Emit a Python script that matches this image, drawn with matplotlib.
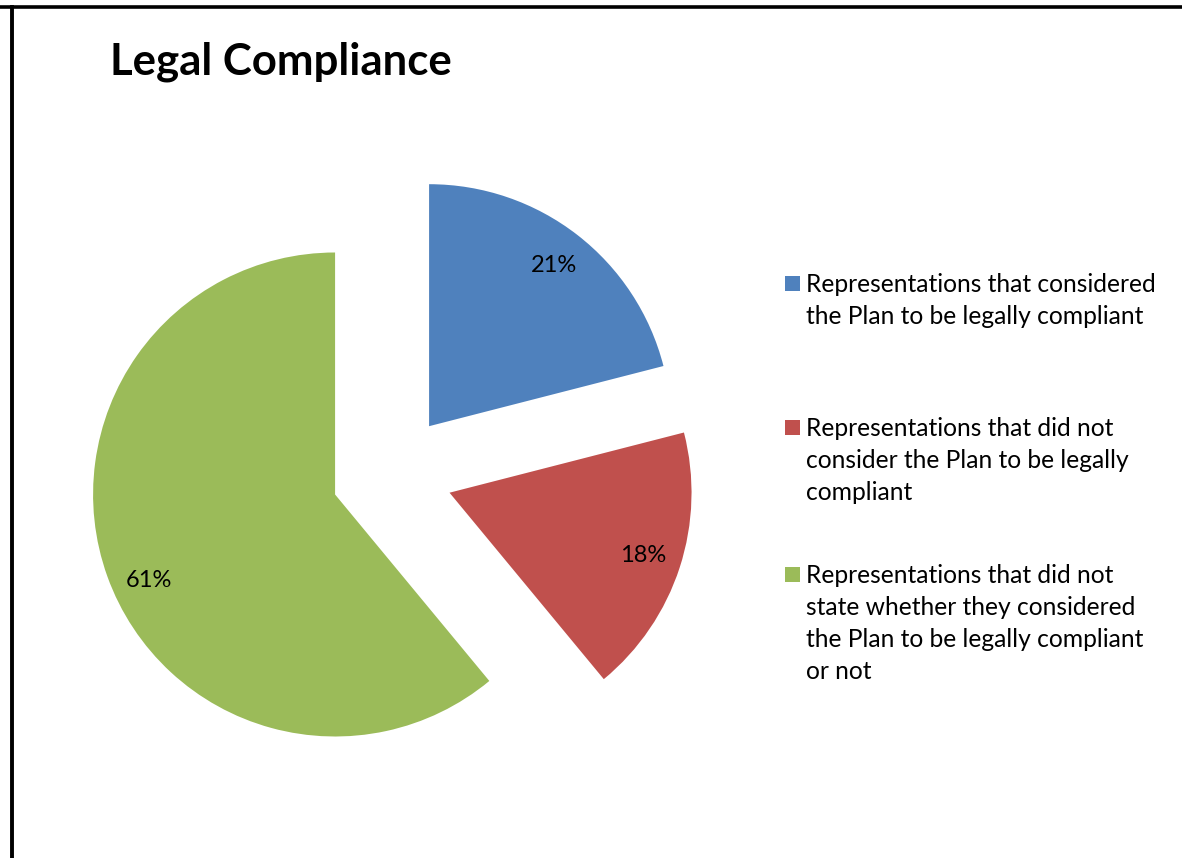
import matplotlib.pyplot as plt
from matplotlib.lines import Line2D
from matplotlib.patches import Rectangle

# data
labels = [
    "Representations that considered\nthe Plan to be legally compliant",
    "Representations that did not\nconsider the Plan to be legally\ncompliant",
    "Representations that did not\nstate whether they considered\nthe Plan to be legally compliant\nor not",
]
shares = [21, 18, 61]
colors = ["#4F81BD", "#C0504D", "#9BBB59"]

plt.rcParams['font.family'] = ['Lato', 'DejaVu Sans']

W, H = 1182, 858
fig = plt.figure(figsize=(W / 100, H / 100), dpi=100)

# pie: centre at (392, 474) px, radius 242 px
R = 242
cx, cy = 392, 474
half = 332
ax = fig.add_axes([(cx - half) / W, (H - cy - half) / H, 2 * half / W, 2 * half / H])
wedges, texts, autotexts = ax.pie(shares, colors=colors, startangle=90, counterclock=False,
                                  explode=[0.25] * 3, autopct='%d%%', pctdistance=0.84,
                                  textprops={'fontsize': 17, 'color': 'black'})
# Excel puts the big slice's label a bit lower
x, y = autotexts[2].get_position()
autotexts[2].set_position((x + 0.02, y - 0.07))
lim = half / R
ax.set_xlim(-lim, lim)
ax.set_ylim(-lim, lim)
ax.axis('off')

# title
fig.text(110 / W, 1 - 75 / H, "Legal Compliance", fontsize=31.5, fontweight='bold',
         va='baseline', ha='left')

# legend drawn by hand, Excel style
first_baselines = [292, 436, 583]
line_gap = 32
for lab, col, yb in zip(labels, colors, first_baselines):
    fig.patches.append(Rectangle((785 / W, 1 - (yb - 1) / H), 15 / W, 15 / H,
                                 transform=fig.transFigure, facecolor=col,
                                 edgecolor='none'))
    for i, line in enumerate(lab.split("\n")):
        fig.text(806 / W, 1 - (yb + i * line_gap) / H, line, fontsize=17.7,
                 va='baseline', ha='left')

# frame lines (top and left)
fig.add_artist(Line2D([0, 1], [1 - 6.5 / H, 1 - 6.5 / H], transform=fig.transFigure,
                      color='black', linewidth=2.6))
fig.add_artist(Line2D([12 / W, 12 / W], [0, 1 - 6.5 / H], transform=fig.transFigure,
                      color='black', linewidth=2.8))

fig.savefig('out.png', dpi=100)
